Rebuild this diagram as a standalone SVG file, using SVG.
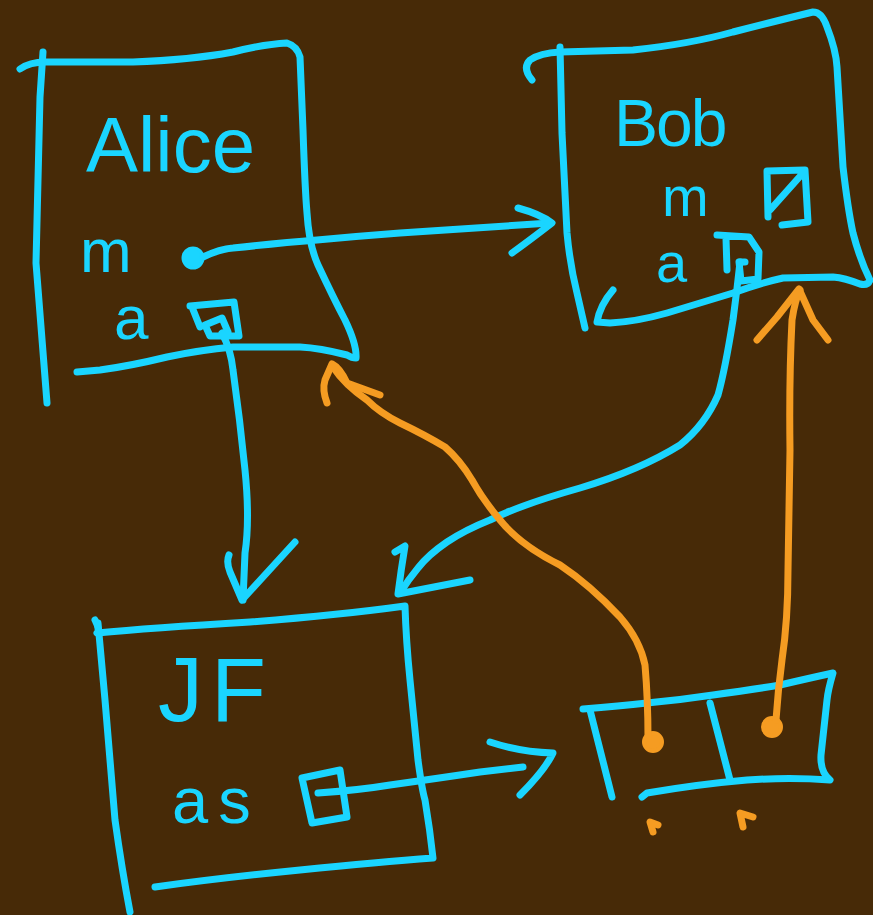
<svg xmlns="http://www.w3.org/2000/svg" width="873" height="915" viewBox="0 0 873 915">
<style>
.c{fill:none;stroke:#1ad5ff;stroke-width:7;stroke-linecap:round;stroke-linejoin:round}
.o{fill:none;stroke:#f59c22;stroke-width:7;stroke-linecap:round;stroke-linejoin:round}
.t{fill:#1ad5ff;font-family:"Liberation Sans",Arial,sans-serif}
</style>
<rect width="873" height="915" fill="#472a07"/>
<g id="alice">
<path class="c" d="M20,69 Q30,62 45,62 L133,62 Q190,60 233,52 Q265,44 287,43 Q297,46 300,57 L303,130 Q305,190 307,213 Q309,245 318,265 Q333,297 345,320 Q357,345 356,358 Q352,358 347,355 Q320,348 300,347 L233,347 Q200,350 167,357 Q130,366 100,370 L77,372"/>
<path class="c" d="M43,52 L40,97 L36,263 L47,403"/>
<text class="t" x="86" y="172" font-size="78">Alice</text>
<text class="t" x="80" y="272" font-size="62">m</text>
<text class="t" x="114" y="339" font-size="62">a</text>
<circle cx="193" cy="258" r="10" fill="#1ad5ff" stroke="#1ad5ff" stroke-width="3"/>
<path class="c" d="M190,306 L234,302 L239,336 L210,336 L205,325 L222,318 L228,332 M192,307 L200,327"/>
</g>
<g id="bob">
<path class="c" d="M532,80 Q522,68 530,60 Q540,53 560,52 L633,50 Q690,44 733,32 Q780,20 813,12 Q822,12 827,27 Q836,50 837,67 L843,167 Q848,210 853,233 Q860,260 870,280 Q868,286 860,284 Q845,278 833,277 L783,278 Q760,283 733,293 Q700,303 667,313 Q635,322 610,323 L597,322 Q600,305 613,290"/>
<path class="c" d="M560,47 L562,133 L567,233 Q570,265 577,293 L585,328"/>
<text class="t" x="614" y="146" font-size="66" letter-spacing="-2">Bob</text>
<text class="t" x="662" y="216" font-size="56">m</text>
<text class="t" x="656" y="282" font-size="56">a</text>
<path class="c" d="M768,217 L767,171 L805,170 L808,222 L782,225 M770,210 L803,173"/>
<path class="c" d="M717,235 L749,237 L759,252 L758,279 L741,281 L739,262 L745,262 M726,238 L727,270"/>
</g>
<g id="jf">
<path class="c" d="M95,620 Q100,630 97,633 Q150,628 250,622 Q340,615 405,606 Q406,640 410,680 L418,760 Q422,790 425,800 Q430,830 433,858 Q380,862 300,870 Q220,878 155,887"/>
<path class="c" d="M98,623 L105,700 L115,820 Q122,870 130,912"/>
<text class="t" x="158" y="721" font-size="90" letter-spacing="8">JF</text>
<text class="t" x="172" y="823" font-size="65" letter-spacing="10">as</text>
<path class="c" d="M302,778 L340,770 L347,817 L312,823 Z"/>
</g>
<g id="array">
<path class="c" d="M583,709 Q620,706 647,703 Q680,700 713,695 Q750,690 780,685 Q810,678 833,673 Q828,690 827,700 L821,755 Q820,772 830,780 Q790,777 747,780 Q700,784 647,793 L642,797"/>
<path class="c" d="M590,710 L612,797"/>
<path class="c" d="M710,703 L730,780"/>
<circle cx="653" cy="742" r="9" fill="#f59c22" stroke="#f59c22" stroke-width="4"/>
<circle cx="772" cy="727" r="9" fill="#f59c22" stroke="#f59c22" stroke-width="4"/>
<path class="o" d="M658,825 L650,822 L653,832" stroke-width="5"/>
<path class="o" d="M753,817 L740,813 L743,827" stroke-width="5"/>
</g>
<g id="connectors">
<path class="c" d="M203,257 Q220,249 233,248 Q280,243 317,240 Q360,236 400,233 Q480,228 550,223"/>
<path class="c" d="M518,208 Q540,214 552,223 Q530,240 512,253"/>
<path class="c" d="M222,333 Q231,350 233,370 Q240,420 245,470 Q250,520 245,553 L243,600"/>
<path class="c" d="M229,555 Q226,562 230,572 L242,600 L295,542"/>
<path class="c" d="M740,262 Q737,290 733,320 Q725,370 718,395 Q705,425 680,445 Q640,470 580,488 Q520,505 490,520 Q465,530 447,542 Q428,555 418,568 Q408,580 400,593"/>
<path class="c" d="M395,552 L405,546 Q401,570 398,594 L470,580"/>
<path class="c" d="M318,793 Q360,790 390,785 Q440,778 480,772 L523,767"/>
<path class="c" d="M490,742 Q520,752 553,753 Q545,770 520,795"/>
<path class="o" d="M648,738 Q648,700 645,665 Q640,640 620,617 Q590,585 560,565 Q520,545 500,520 Q483,500 472,480 Q460,460 445,447 Q425,435 400,423 Q380,413 367,400 Q345,385 333,367"/>
<path class="o" d="M327,403 Q322,390 325,380 L332,364 Q340,368 347,383 L380,395"/>
<path class="o" d="M776,720 Q778,690 782,660 Q788,620 788,570 L790,450 Q789,380 792,320 Q795,300 800,290"/>
<path class="o" d="M757,340 L777,317 L799,289 L813,320 L828,340"/>
</g>
</svg>
